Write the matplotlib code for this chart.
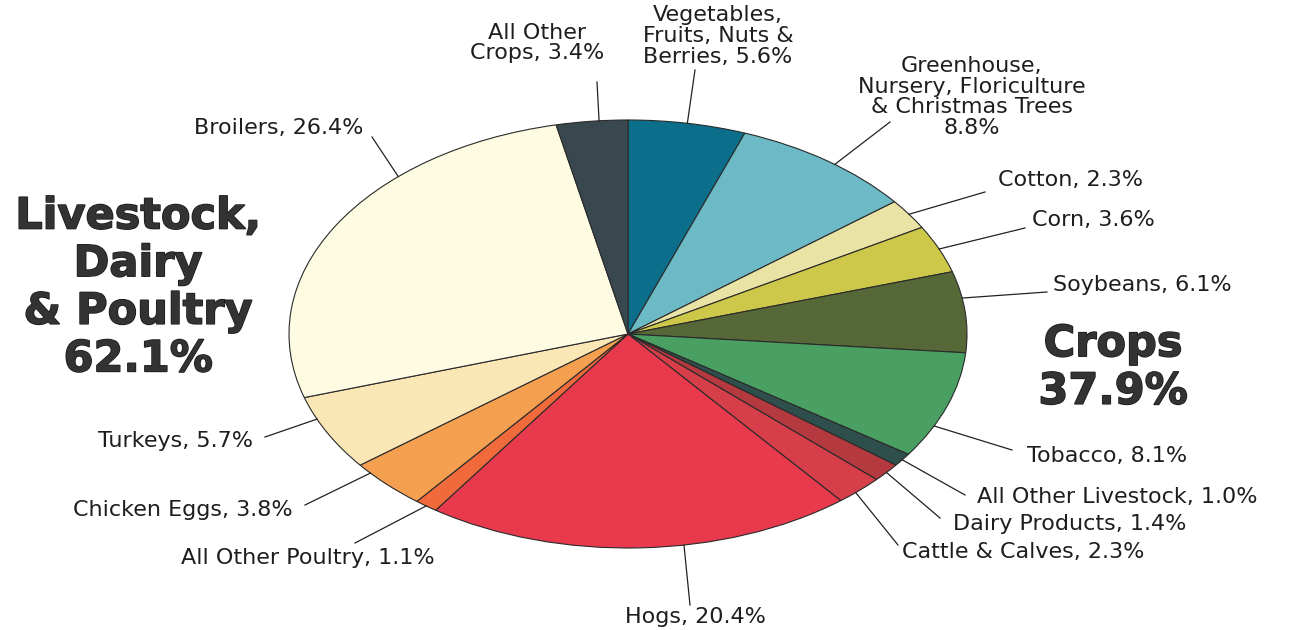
import matplotlib
matplotlib.use("Agg")
import matplotlib.pyplot as plt
import matplotlib.patheffects as pe
import numpy as np

# slices, clockwise from 12 o'clock
names = ["Vegetables,\nFruits, Nuts &\nBerries", "Greenhouse,\nNursery, Floriculture\n& Christmas Trees",
         "Cotton", "Corn", "Soybeans", "Tobacco", "All Other Livestock", "Dairy Products",
         "Cattle & Calves", "Hogs", "All Other Poultry", "Chicken Eggs", "Turkeys", "Broilers",
         "All Other\nCrops"]
shares = [5.6, 8.8, 2.3, 3.6, 6.1, 8.1, 1.0, 1.4, 2.3, 20.4, 1.1, 3.8, 5.7, 26.4, 3.4]
colors = ["#0b6f8c", "#6cbac6", "#e9e3a6", "#cdc74a", "#566838", "#4a9f62", "#2e4f4c", "#b43a40",
          "#d63e4a", "#e83a4c", "#f06a3c", "#f5a050", "#fbe7b6", "#fefbe3", "#39484e"]
group_labels = ["Livestock,\nDairy\n& Poultry\n62.1%", "Crops\n37.9%"]

# label layout in pixels: text x, text y, alignment, leader start, where the leader hits the wedge
text_pos = [(718, 36, "center"), (972, 97, "center"), (998, 180, "left"), (1032, 220, "left"),
            (1053, 285, "left"), (1027, 456, "left"), (977, 497, "left"), (953, 524, "left"),
            (902, 552, "left"), (695, 617, "center"), (435, 558, "right"), (293, 510, "right"),
            (253, 441, "right"), (363, 128, "right"), (537, 43, "center")]
leader_start = [(695, 70), (890, 122), (985, 192), (1025, 228), (1047, 292), (1012, 450),
                (965, 495), (940, 518), (898, 545), (690, 605), (355, 543), (305, 505),
                (265, 437), (372, 137), (597, 82)]
leader_frac = [0.5, 0.55, 0.5, 0.5, 0.33, 0.7, 0.5, 0.5, 0.6, 0.4, 0.5, 0.8, 0.7, 0.68, 0.6]

W, H = 1311, 630
cx, cy, rx, ry = 628, 334, 339, 214

fig = plt.figure(figsize=(W / 100, H / 100), dpi=100)
fig.patch.set_facecolor("white")

ax = fig.add_axes([(cx - rx) / W, (H - cy - ry) / H, 2 * rx / W, 2 * ry / H])
ax.pie(shares, colors=colors, startangle=90, counterclock=False, radius=1,
       wedgeprops=dict(edgecolor="#2a2a2a", linewidth=0.8))
ax.set_aspect("auto")
ax.set_xlim(-1, 1)
ax.set_ylim(-1, 1)
ax.axis("off")

over = fig.add_axes([0, 0, 1, 1], zorder=3)
over.set_xlim(0, W)
over.set_ylim(H, 0)
over.axis("off")

cum = np.concatenate([[0], np.cumsum(shares)]) / sum(shares)
for i, name in enumerate(names):
    frac = cum[i] + leader_frac[i] * (cum[i + 1] - cum[i])
    t = np.deg2rad(90 - frac * 360)
    ex, ey = cx + rx * np.cos(t), cy - ry * np.sin(t)
    sx, sy = leader_start[i]
    over.plot([sx, ex], [sy, ey], color="#222222", lw=0.9)

    tx, ty, ha = text_pos[i]
    if name.endswith("Trees"):
        label = f"{name}\n{shares[i]}%"
    else:
        label = f"{name}, {shares[i]}%"
    over.text(tx, ty, label, ha=ha, va="center", fontsize=16, family="DejaVu Sans",
              color="#1e1e1e", linespacing=1.04, multialignment="center")

heavy = [pe.withStroke(linewidth=1.1, foreground="#1a1a1a")]
over.text(138, 288, group_labels[0], ha="center", va="center", fontsize=31, weight="bold",
          family="DejaVu Sans", color="#333333", linespacing=1.17, path_effects=heavy)
over.text(1113, 368, group_labels[1], ha="center", va="center", fontsize=31, weight="bold",
          family="DejaVu Sans", color="#333333", linespacing=1.17, path_effects=heavy)

fig.savefig("out.png", dpi=100, facecolor="white")
